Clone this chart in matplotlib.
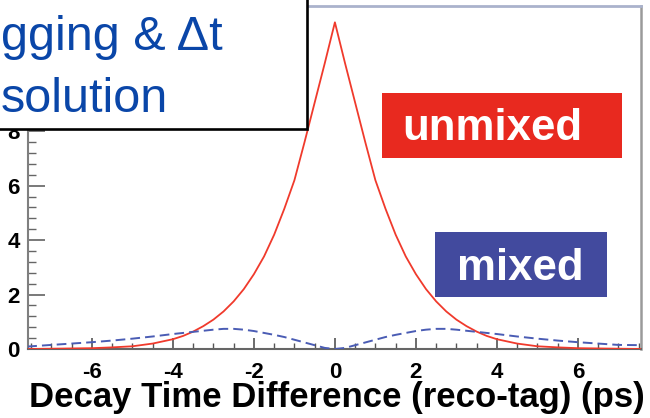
import matplotlib
matplotlib.use('Agg')
import matplotlib.pyplot as plt
from matplotlib.patches import Rectangle
from matplotlib.ticker import MultipleLocator

# decay time difference grid (ps)
t_ps = [-7.6, -7.0, -6.5, -6.0, -5.5, -5.0, -4.5, -4.0, -3.75, -3.5, -3.25, -3.0,
        -2.75, -2.5, -2.25, -2.0, -1.75, -1.5, -1.25, -1.0, -0.75, -0.5, -0.25,
        0.0, 0.25, 0.5, 0.75, 1.0, 1.25, 1.5, 1.75, 2.0, 2.25, 2.5, 2.75, 3.0,
        3.25, 3.5, 3.75, 4.0, 4.5, 5.0, 5.5, 6.0, 6.5, 7.0, 7.6]

# unmixed events
unmixed = [0.0, 0.01, 0.02, 0.03, 0.06, 0.1, 0.2, 0.36, 0.48, 0.64, 0.84, 1.08,
           1.38, 1.75, 2.2, 2.75, 3.4, 4.2, 5.15, 6.2, 7.6, 9.05, 10.5,
           12.0, 10.5, 9.05, 7.6, 6.2, 5.15, 4.2, 3.4, 2.75, 2.2, 1.75, 1.38, 1.08,
           0.84, 0.64, 0.48, 0.36, 0.2, 0.1, 0.06, 0.03, 0.02, 0.01, 0.0]

# mixed events
mixed = [0.09, 0.15, 0.2, 0.25, 0.31, 0.38, 0.46, 0.55, 0.59, 0.63, 0.67, 0.71,
         0.74, 0.74, 0.71, 0.66, 0.59, 0.52, 0.44, 0.34, 0.24, 0.14, 0.04,
         0.0, 0.04, 0.14, 0.24, 0.34, 0.44, 0.52, 0.59, 0.66, 0.71, 0.74, 0.74, 0.71,
         0.67, 0.63, 0.59, 0.55, 0.46, 0.38, 0.31, 0.25, 0.2, 0.15, 0.14]

x_ticks = [-6, -4, -2, 0, 2, 4, 6]
y_ticks = [0, 2, 4, 6, 8]

W, H = 650, 418
plt.rcParams['font.family'] = ['Liberation Sans', 'DejaVu Sans']
plt.rcParams['axes.unicode_minus'] = False

fig = plt.figure(figsize=(W / 100, H / 100), dpi=100)
ax = fig.add_axes([28 / W, 1 - 349 / H, (641 - 28) / W, (349 - 6) / H])

ax.plot(t_ps, unmixed, color='#f03a2c', lw=1.3, zorder=3)
ax.plot(t_ps, mixed, color='#4a5cb4', lw=1.4, ls=(0, (5, 2.6)), zorder=3)

ax.set_xlim(-7.58, 7.56)
ax.set_ylim(0, 12.6)
ax.set_xticks(x_ticks)
ax.set_yticks(y_ticks)
ax.xaxis.set_minor_locator(MultipleLocator(0.5))
ax.yaxis.set_minor_locator(MultipleLocator(0.4))
ax.tick_params(axis='x', which='major', direction='in', length=8, width=1.1,
               color='#444444', pad=9, labelsize=16)
ax.tick_params(axis='x', which='minor', direction='in', length=4, width=1.0,
               color='#555555')
ax.tick_params(axis='y', which='major', direction='in', length=12, width=1.1,
               color='#555555', pad=6, labelsize=16)
ax.tick_params(axis='y', which='minor', direction='in', length=6, width=1.0,
               color='#666666')
for lab in ax.get_xticklabels() + ax.get_yticklabels():
    lab.set_fontweight('bold')

ax.spines['left'].set_color('#7f7f7f')
ax.spines['left'].set_linewidth(1.5)
ax.spines['bottom'].set_color('#666666')
ax.spines['bottom'].set_linewidth(1.5)
ax.spines['right'].set_color('#9a9a9a')
ax.spines['right'].set_linewidth(1.8)
ax.spines['top'].set_color('#aab2cc')
ax.spines['top'].set_linewidth(2.0)

fig.text(337 / W, 1 - 407 / H, 'Decay Time Difference (reco-tag) (ps)',
         ha='center', va='baseline', fontsize=25, fontweight='bold')

# legend boxes
def tag_box(x0, x1, y0, y1, color, label, tx, ty):
    fig.patches.append(Rectangle((x0 / W, 1 - y1 / H), (x1 - x0) / W, (y1 - y0) / H,
                                 transform=fig.transFigure, facecolor=color,
                                 edgecolor='none', zorder=4))
    fig.text(tx / W, 1 - ty / H, label, ha='center', va='baseline',
             color='white', fontsize=31.5, fontweight='bold', zorder=5)

tag_box(382, 622, 93, 158, '#e8291f', 'unmixed', 492, 140)
tag_box(435, 607, 232, 297, '#424a9e', 'mixed', 520, 280)

# title box in the corner
fig.patches.append(Rectangle((-20 / W, 1 - 129 / H), 327 / W, 160 / H,
                             transform=fig.transFigure, facecolor='white',
                             edgecolor='black', lw=1.9, zorder=6))
fig.text(1 / W, 1 - 50 / H, 'gging & Δt', ha='left', va='baseline',
         color='#0a46a8', fontsize=35, zorder=7)
fig.text(1 / W, 1 - 112 / H, 'solution', ha='left', va='baseline',
         color='#0a46a8', fontsize=35, zorder=7)

fig.savefig('out.png', dpi=100)
